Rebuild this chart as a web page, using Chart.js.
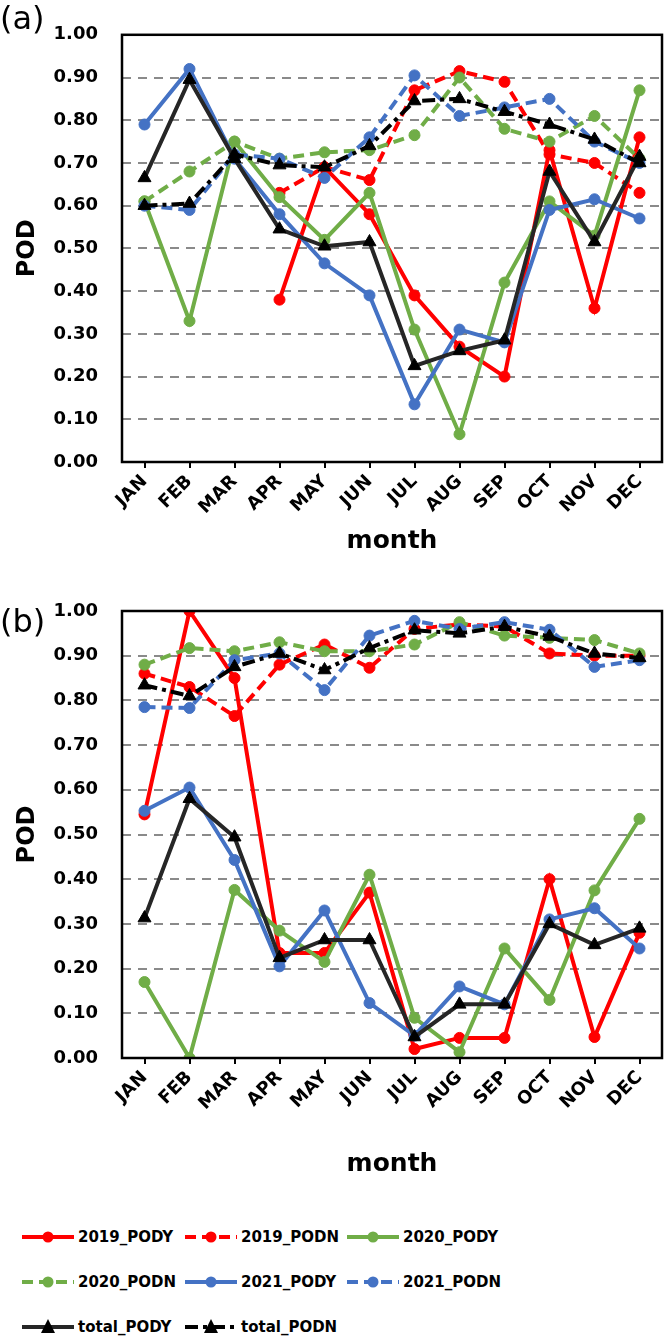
<!DOCTYPE html>
<html>
<head>
<meta charset="utf-8">
<script src="https://cdn.jsdelivr.net/npm/chart.js@4"></script>
<style>
  html, body { margin: 0; padding: 0; background: #fff; }
  body { width: 664px; height: 1341px; position: relative; overflow: hidden; font-family: "DejaVu Sans", sans-serif; }
  #wa { position: absolute; left: 0; top: 0; width: 664px; height: 570px; }
  #wb { position: absolute; left: 0; top: 570px; width: 664px; height: 620px; }
  .panel { position: absolute; font-size: 32px; color: #000; line-height: 1; }
  .leg { position: absolute; height: 20px; display: flex; align-items: center; font-size: 15px; font-weight: bold; color: #000; white-space: nowrap; }
  .leg svg { margin-right: 4px; }
</style>
</head>
<body>
<div id="wa"><canvas id="ca" width="664" height="570"></canvas></div>
<div id="wb"><canvas id="cb" width="664" height="620"></canvas></div>
<div class="panel" style="left:0px; top:2px;">(a)</div>
<div class="panel" style="left:0px; top:605px;">(b)</div>
<div id="legend"></div>
<script>
// ---------- data ----------
const months = ['JAN','FEB','MAR','APR','MAY','JUN','JUL','AUG','SEP','OCT','NOV','DEC'];
const yTicks = [0,0.1,0.2,0.3,0.4,0.5,0.6,0.7,0.8,0.9,1.0];
const seriesNames = ['2019_PODY','2019_PODN','2020_PODY','2020_PODN','2021_PODY','2021_PODN','total_PODY','total_PODN'];

// panel (a)
const a2019Y = [null,null,null,0.38,0.69,0.58,0.39,0.27,0.20,0.73,0.36,0.76];
const a2019N = [null,null,null,0.63,0.69,0.66,0.87,0.915,0.89,0.72,0.70,0.63];
const a2020Y = [0.61,0.33,0.75,0.62,0.52,0.63,0.31,0.065,0.42,0.61,0.53,0.87];
const a2020N = [0.61,0.68,0.75,0.71,0.725,0.73,0.765,0.90,0.78,0.75,0.81,0.71];
const a2021Y = [0.79,0.92,0.71,0.58,0.465,0.39,0.135,0.31,0.28,0.59,0.615,0.57];
const a2021N = [0.60,0.59,0.72,0.71,0.665,0.76,0.905,0.81,0.83,0.85,0.75,0.70];
const aTotY  = [0.665,0.895,0.71,0.545,0.505,0.515,0.225,0.26,0.285,0.68,0.515,0.715];
const aTotN  = [0.60,0.605,0.72,0.695,0.69,0.74,0.845,0.85,0.82,0.79,0.755,0.70];

// panel (b)
const b2019Y = [0.545,1.00,0.85,0.235,0.235,0.37,0.02,0.045,0.045,0.40,0.047,0.28];
const b2019N = [0.86,0.83,0.765,0.88,0.925,0.873,0.96,0.97,0.965,0.905,0.90,0.90];
const b2020Y = [0.17,0.00,0.376,0.285,0.215,0.41,0.09,0.013,0.245,0.13,0.375,0.535];
const b2020N = [0.88,0.917,0.91,0.93,0.91,0.91,0.925,0.975,0.945,0.94,0.935,0.905];
const b2021Y = [0.553,0.605,0.443,0.205,0.33,0.123,0.05,0.16,0.12,0.31,0.335,0.245];
const b2021N = [0.785,0.783,0.89,0.905,0.823,0.945,0.978,0.96,0.975,0.958,0.875,0.89];
const bTotY  = [0.313,0.58,0.494,0.224,0.264,0.264,0.047,0.12,0.12,0.30,0.253,0.29];
const bTotN  = [0.834,0.81,0.875,0.905,0.868,0.917,0.957,0.95,0.965,0.943,0.905,0.895];

// ---------- styles ----------
const RED = '#FF0000', GREEN = '#70AD47', BLUE = '#4472C4', BLACK = '#000000', DARK = '#262626';
const styles = [
  {color: RED,   line: RED,   dash: [],            pt: 'circle',   r: 5.5},
  {color: RED,   line: RED,   dash: [11,6],        pt: 'circle',   r: 5.5},
  {color: GREEN, line: GREEN, dash: [],            pt: 'circle',   r: 5.5},
  {color: GREEN, line: GREEN, dash: [11,6],        pt: 'circle',   r: 5.5},
  {color: BLUE,  line: BLUE,  dash: [],            pt: 'circle',   r: 5.5},
  {color: BLUE,  line: BLUE,  dash: [11,6],        pt: 'circle',   r: 5.5},
  {color: BLACK, line: DARK,  dash: [],            pt: 'triangle', r: 7.5},
  {color: BLACK, line: BLACK, dash: [13,5,4,5],    pt: 'triangle', r: 7.5}
];

const FONT = '"DejaVu Sans", sans-serif';

function makeDatasets(arrs) {
  return arrs.map((d, i) => ({
    label: seriesNames[i],
    data: d,
    borderColor: styles[i].line,
    backgroundColor: styles[i].color,
    pointBackgroundColor: styles[i].color,
    pointBorderColor: styles[i].color,
    pointStyle: styles[i].pt,
    pointRadius: styles[i].r,
    pointBorderWidth: 1,
    borderWidth: 4,
    borderDash: styles[i].dash,
    tension: 0,
    spanGaps: false,
    order: arrs.length - i
  }));
}

const framePlugin = {
  id: 'frame',
  afterDatasetsDraw(chart) {
    const {ctx, chartArea: a} = chart;
    ctx.save();
    ctx.strokeStyle = '#000';
    ctx.lineWidth = 2.5;
    ctx.setLineDash([]);
    ctx.strokeRect(a.left, a.top, a.right - a.left, a.bottom - a.top);
    ctx.restore();
  }
};

function makeChart(id, arrs, topPad, xHeight, titlePadBottom) {
  return new Chart(document.getElementById(id), {
    type: 'line',
    data: { labels: months, datasets: makeDatasets(arrs) },
    options: {
      responsive: false,
      animation: false,
      events: [],
      layout: { padding: { top: topPad, right: 2, left: 0, bottom: 0 }, autoPadding: false },
      plugins: { legend: { display: false }, tooltip: { enabled: false } },
      scales: {
        x: {
          type: 'category',
          offset: true,
          grid: { display: true, offset: false, drawOnChartArea: false, drawTicks: true, tickLength: 6, color: '#000', lineWidth: 2 },
          border: { display: false },
          ticks: {
            color: '#000', font: { family: FONT, size: 18, weight: 'bold' },
            minRotation: 45, maxRotation: 45, padding: 3, autoSkip: false
          },
          title: { display: true, text: 'month', color: '#000', font: { family: FONT, size: 25, weight: 'bold' }, padding: { top: 0, bottom: titlePadBottom } },
          afterFit(s) { s.height = xHeight; }
        },
        y: {
          min: 0, max: 1,
          afterBuildTicks(s) { s.ticks = yTicks.map(v => ({ value: v })); },
          grid: { display: true, drawTicks: false, color: '#8a8a8a', lineWidth: 2 },
          border: { display: false, dash: [9, 7] },
          ticks: {
            color: '#000', font: { family: FONT, size: 18, weight: 'bold' }, padding: 24,
            callback: v => Number(v).toFixed(2)
          },
          title: { display: true, text: 'POD', color: '#000', font: { family: FONT, size: 24, weight: 'bold' }, padding: { top: 13, bottom: 0 } },
          afterFit(s) { s.width = 122; }
        }
      }
    },
    plugins: [framePlugin]
  });
}

makeChart('ca', [a2019Y, a2019N, a2020Y, a2020N, a2021Y, a2021N, aTotY, aTotN], 13, 108, 14);
makeChart('cb', [b2019Y, b2019N, b2020Y, b2020N, b2021Y, b2021N, bTotY, bTotN], 41, 132, 11);

// ---------- legend ----------
const legPos = [
  [22, 1237], [185, 1237], [347, 1237],
  [22, 1282], [185, 1282], [347, 1282],
  [22, 1327], [185, 1327]
];
const legend = document.getElementById('legend');
seriesNames.forEach((name, i) => {
  const st = styles[i];
  const [x, y] = legPos[i];
  const el = document.createElement('div');
  el.className = 'leg';
  el.style.left = x + 'px';
  el.style.top = (y - 10) + 'px';
  const dash = st.dash.length ? `stroke-dasharray="${st.dash.join(' ')}"` : '';
  let marker;
  if (st.pt === 'circle') {
    marker = `<circle cx="26" cy="10" r="5.5" fill="${st.color}"/>`;
  } else {
    marker = `<polygon points="26,2 33,16 19,16" fill="${st.color}"/>`;
  }
  el.innerHTML = `<svg width="52" height="20"><line x1="0" y1="10" x2="52" y2="10" stroke="${st.line}" stroke-width="4" ${dash}/>${marker}</svg><span>${name}</span>`;
  legend.appendChild(el);
});
</script>
</body>
</html>
